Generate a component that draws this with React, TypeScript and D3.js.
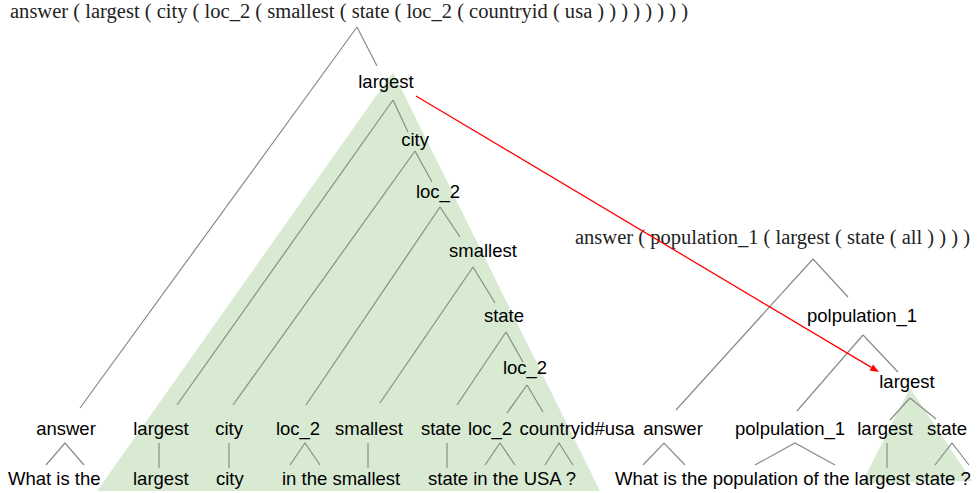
import React from 'react';
import * as d3 from 'd3';

// logical forms written above each tree
const leftQuery = 'answer ( largest ( city ( loc_2 ( smallest ( state ( loc_2 ( countryid ( usa ) ) ) ) ) ) ) )';
const rightQuery = 'answer ( population_1 ( largest ( state ( all ) ) ) )';

// inner nodes of each tree, top to bottom
const leftSpine = ['largest', 'city', 'loc_2', 'smallest', 'state', 'loc_2'];
const rightSpine = ['polpulation_1', 'largest'];

// leaf row
const leftLeaves = ['answer', 'largest', 'city', 'loc_2', 'smallest', 'state', 'loc_2', 'countryid#usa'];
const rightLeaves = ['answer', 'polpulation_1', 'largest', 'state'];

// words each leaf covers
const leftLeafWords = ['What is the', 'largest', 'city', 'in the', 'smallest', 'state', 'in the', 'USA ?'];
const rightLeafWords = ['What is the', 'population of the', 'largest', 'state ?'];

// sentence pieces on the bottom row
const leftPhrases = ['What is the', 'largest', 'city', 'in the smallest', 'state in the USA ?'];
const rightPhrases = ['What is the population of the largest state ?'];

// ---- layout (pixels) ----
type Pt = [number, number];
interface TreeLayout {
  queryX: number;
  queryY: number;
  queryLen: number;
  rootFork: Pt;
  spineLabel: Pt[];
  spineIn: Pt[];
  spineFork: Pt[];
  leafX: number[];
  leafIn: Pt[];
  leafFork: number[];
  leafSpread: number[];
  phraseX: number[];
  shade: Pt[];
}

const leftLayout: TreeLayout = {
  queryX: 10,
  queryY: 18,
  queryLen: 678,
  rootFork: [357, 27],
  spineLabel: [[386, 88], [415, 146], [438, 198], [483, 257], [504, 322], [525, 374]],
  spineIn: [[377, 66], [408, 132], [432, 182], [460, 237], [495, 303], [523, 362]],
  spineFork: [[393, 100], [415, 151], [440, 207], [473, 267], [506, 332], [527, 385]],
  leafX: [66, 161, 229, 298, 369, 441, 490, 577],
  leafIn: [[80, 408], [177, 405], [233, 405], [306, 405], [380, 403], [457, 405], [507, 413], [543, 412]],
  leafFork: [65, 159, 229, 305, 368, 447, 500, 559],
  leafSpread: [19, 0, 0, 15, 0, 0, 15, 14],
  phraseX: [8, 133, 216, 282, 428],
  shade: [[393, 72], [97, 491], [600, 491]],
};

const rightLayout: TreeLayout = {
  queryX: 575,
  queryY: 244,
  queryLen: 395,
  rootFork: [813, 259],
  spineLabel: [[862, 322], [907, 388]],
  spineIn: [[848, 297], [898, 372]],
  spineFork: [[863, 335], [910, 398]],
  leafX: [673, 790, 885, 947],
  leafIn: [[676, 410], [797, 411], [890, 420], [936, 419]],
  leafFork: [664, 795, 887, 952],
  leafSpread: [21, 40, 0, 17],
  phraseX: [615],
  shade: [[910, 388], [862, 483], [972, 481]],
};

const arrowFrom: Pt = [416, 96];
const arrowTo: Pt = [879, 372];

const SANS = '"Liberation Sans", Arial, sans-serif';
const SERIF = '"Liberation Serif", "Times New Roman", serif';
const FS = 18.5;
const GRAY = '#8a8a8a';
const GREEN = '#d9ead3';

const leafY = 435;
const forkTop = 443;
const forkBottom = 465;
const phraseY = 485;

const seg = d3.line<Pt>();
const closed = d3.line<Pt>().curve(d3.curveLinearClosed);

function edgesOf(spine: string[], L: TreeLayout): [Pt, Pt][] {
  const out: [Pt, Pt][] = [];
  out.push([L.rootFork, L.leafIn[0]]);
  out.push([L.rootFork, L.spineIn[0]]);
  spine.forEach((_, i) => {
    out.push([L.spineFork[i], L.leafIn[i + 1]]);
    if (i + 1 < spine.length) out.push([L.spineFork[i], L.spineIn[i + 1]]);
    else out.push([L.spineFork[i], L.leafIn[i + 2]]);
  });
  return out;
}

function Tree({ query, spine, leaves, leafWords, phrases, L }: {
  query: string; spine: string[]; leaves: string[]; leafWords: string[]; phrases: string[]; L: TreeLayout;
}) {
  const edges = edgesOf(spine, L);
  return (
    <g>
      <text x={L.queryX} y={L.queryY} fontFamily={SERIF} fontSize={20} fill="#222"
        textLength={L.queryLen} lengthAdjust="spacingAndGlyphs">{query}</text>
      {edges.map((e, i) => (
        <path key={'e' + i} d={seg(e) || ''} stroke={GRAY} strokeWidth={1.2} fill="none" />
      ))}
      {spine.map((s, i) => (
        <text key={'s' + i} x={L.spineLabel[i][0]} y={L.spineLabel[i][1]} textAnchor="middle"
          fontFamily={SANS} fontSize={FS} fill="#000">{s}</text>
      ))}
      {leaves.map((s, i) => (
        <text key={'l' + i} x={L.leafX[i]} y={leafY} textAnchor="middle"
          fontFamily={SANS} fontSize={FS} fill="#000">{s}</text>
      ))}
      {leafWords.map((w, i) => {
        const fx = L.leafFork[i];
        if (w.trim().split(' ').length === 1) {
          return <path key={'w' + i} d={seg([[fx, forkTop], [fx, forkBottom + 3]]) || ''}
            stroke={GRAY} strokeWidth={1.2} fill="none" />;
        }
        const sp = L.leafSpread[i];
        return <path key={'w' + i}
          d={seg([[fx - sp, forkBottom], [fx, forkTop], [fx + sp, forkBottom]]) || ''}
          stroke={GRAY} strokeWidth={1.2} fill="none" />;
      })}
      {phrases.map((p, i) => (
        <text key={'p' + i} x={L.phraseX[i]} y={phraseY} fontFamily={SANS} fontSize={FS}
          fill="#000">{p}</text>
      ))}
    </g>
  );
}

export default function App() {
  const dx = arrowTo[0] - arrowFrom[0];
  const dy = arrowTo[1] - arrowFrom[1];
  const len = Math.hypot(dx, dy);
  const ux = dx / len, uy = dy / len;
  const hl = 9, hw = 3.5;
  const base: Pt = [arrowTo[0] - ux * hl, arrowTo[1] - uy * hl];
  const head: Pt[] = [
    arrowTo,
    [base[0] - uy * hw, base[1] + ux * hw],
    [base[0] + uy * hw, base[1] - ux * hw],
  ];
  return (
    <svg width={978} height={493} style={{ position: 'absolute', left: 0, top: 0, background: '#fff' }}>
      <path d={closed(leftLayout.shade) || ''} fill={GREEN} />
      <path d={closed(rightLayout.shade) || ''} fill={GREEN} />
      <Tree query={leftQuery} spine={leftSpine} leaves={leftLeaves} leafWords={leftLeafWords}
        phrases={leftPhrases} L={leftLayout} />
      <Tree query={rightQuery} spine={rightSpine} leaves={rightLeaves} leafWords={rightLeafWords}
        phrases={rightPhrases} L={rightLayout} />
      <path d={seg([arrowFrom, base]) || ''} stroke="#ff0000" strokeWidth={1.3} fill="none" />
      <path d={closed(head) || ''} fill="#ff0000" />
    </svg>
  );
}
